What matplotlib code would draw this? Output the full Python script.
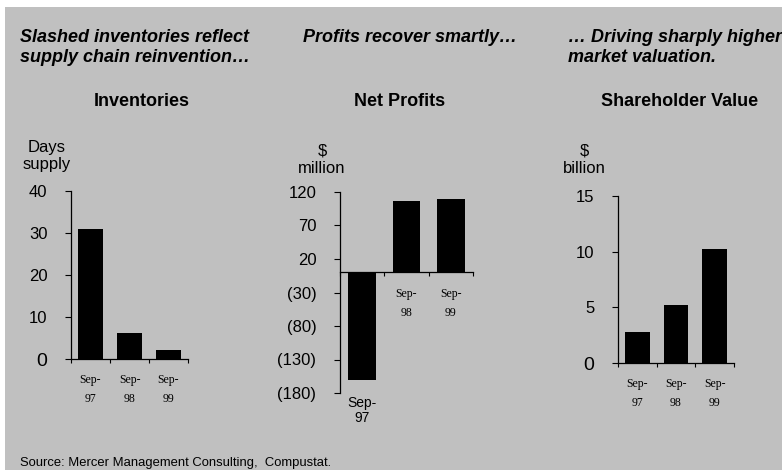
import matplotlib.pyplot as plt
from matplotlib.patches import Rectangle

# data
periods = ["Sep-\n97", "Sep-\n98", "Sep-\n99"]
inventories = [31, 6.3, 2.1]          # days supply
net_profits = [-161, 106, 110]        # $ million
shareholder_value = [2.8, 5.2, 10.2]  # $ billion

W, H = 782, 470
BG = "#c0c0c0"
SANS = ["Liberation Sans", "DejaVu Sans"]
SERIF = ["Liberation Serif", "DejaVu Serif"]

fig = plt.figure(figsize=(W / 100, H / 100), dpi=100)
fig.patch.set_facecolor("white")
fig.patches.append(Rectangle((5 / W, 0), 1, (H - 7) / H, transform=fig.transFigure,
                             facecolor=BG, edgecolor="none", zorder=-10))


def px_axes(x0, x1, ytop, ybot):
    # place axes with pixel coords (top-left origin)
    ax = fig.add_axes([x0 / W, (H - ybot) / H, (x1 - x0) / W, (ybot - ytop) / H])
    ax.set_facecolor("none")
    for s in ["top", "right"]:
        ax.spines[s].set_visible(False)
    for s in ["left", "bottom"]:
        ax.spines[s].set_linewidth(0.9)
    ax.set_xlim(-0.5, 2.5)
    ax.set_xticks([-0.5, 0.5, 1.5, 2.5], minor=True)
    ax.tick_params(axis="x", which="minor", length=3, width=0.8, direction="out")
    ax.tick_params(axis="y", length=4, width=0.8, direction="out", pad=13,
                   labelsize=12)
    return ax


def fmt_neg(v):
    return f"({abs(v)})" if v < 0 else f"{v}"


def set_xlabels(ax, labels, pad=6):
    ax.set_xticks(range(len(labels)))
    ax.set_xticklabels(labels, family=SERIF, fontsize=8.5, linespacing=1.8)
    ax.tick_params(axis="x", which="major", length=0, pad=pad)


# --- Inventories
ax1 = px_axes(71, 188, 191, 359)
ax1.bar(range(3), inventories, width=0.64, color="black")
ax1.set_ylim(0, 40)
ax1.set_yticks([0, 10, 20, 30, 40])
ax1.set_yticklabels(["0", "10", "20", "30", "40"], family=SANS)
ax1.get_yticklabels()[0].set_fontsize(14)
set_xlabels(ax1, periods, pad=11)

# --- Net profits
ax2 = px_axes(340, 473, 192, 393)
ax2.bar(range(3), net_profits, width=0.63, color="black")
ax2.set_ylim(-180, 120)
yt2 = [-180, -130, -80, -30, 20, 70, 120]
ax2.set_yticks(yt2)
ax2.set_yticklabels([fmt_neg(v) for v in yt2], family=SANS)
ax2.spines["bottom"].set_position(("data", 0))
set_xlabels(ax2, ["", periods[1], periods[2]], pad=11)
ax2.annotate("Sep-\n97", xy=(0, net_profits[0]), xytext=(0, -11.5),
             textcoords="offset points", ha="center", va="top",
             family=SANS, fontsize=10, linespacing=1.05)

# --- Shareholder value
ax3 = px_axes(618, 734, 196, 363)
ax3.bar(range(3), shareholder_value, width=0.64, color="black")
ax3.set_ylim(0, 15)
ax3.set_yticks([0, 5, 10, 15])
ax3.set_yticklabels(["0", "5", "10", "15"], family=SANS)
ax3.get_yticklabels()[0].set_fontsize(14)
set_xlabels(ax3, periods, pad=11)


def ftext(x, y, s, **kw):
    fig.text(x / W, 1 - y / H, s, **kw)


# unit labels
for cx, cy, t in [(47, 156, "Days\nsupply"), (322, 160, "$\nmillion"),
                  (584, 160, "$\nbillion")]:
    ftext(cx, cy, t, ha="center", va="center", family=SANS, fontsize=12,
          linespacing=1.2)

# panel titles
for cx, t in [(142, "Inventories"), (400, "Net Profits"), (680, "Shareholder Value")]:
    ftext(cx, 102, t, ha="center", va="center", family=SANS, fontsize=13,
          fontweight="bold")

# headlines
hl = dict(ha="left", va="center", family=SANS, fontsize=13, fontweight="bold",
          style="italic", linespacing=1.25)
ftext(20, 47.5, "Slashed inventories reflect\nsupply chain reinvention…", **hl)
ftext(303, 37, "Profits recover smartly…", **hl)
ftext(568, 47.5, "… Driving sharply higher\nmarket valuation.", **hl)

ftext(20, 463, "Source: Mercer Management Consulting,  Compustat.", ha="left",
      va="center", family=SANS, fontsize=9.4)

fig.savefig("out.png", dpi=100, facecolor=fig.get_facecolor())
